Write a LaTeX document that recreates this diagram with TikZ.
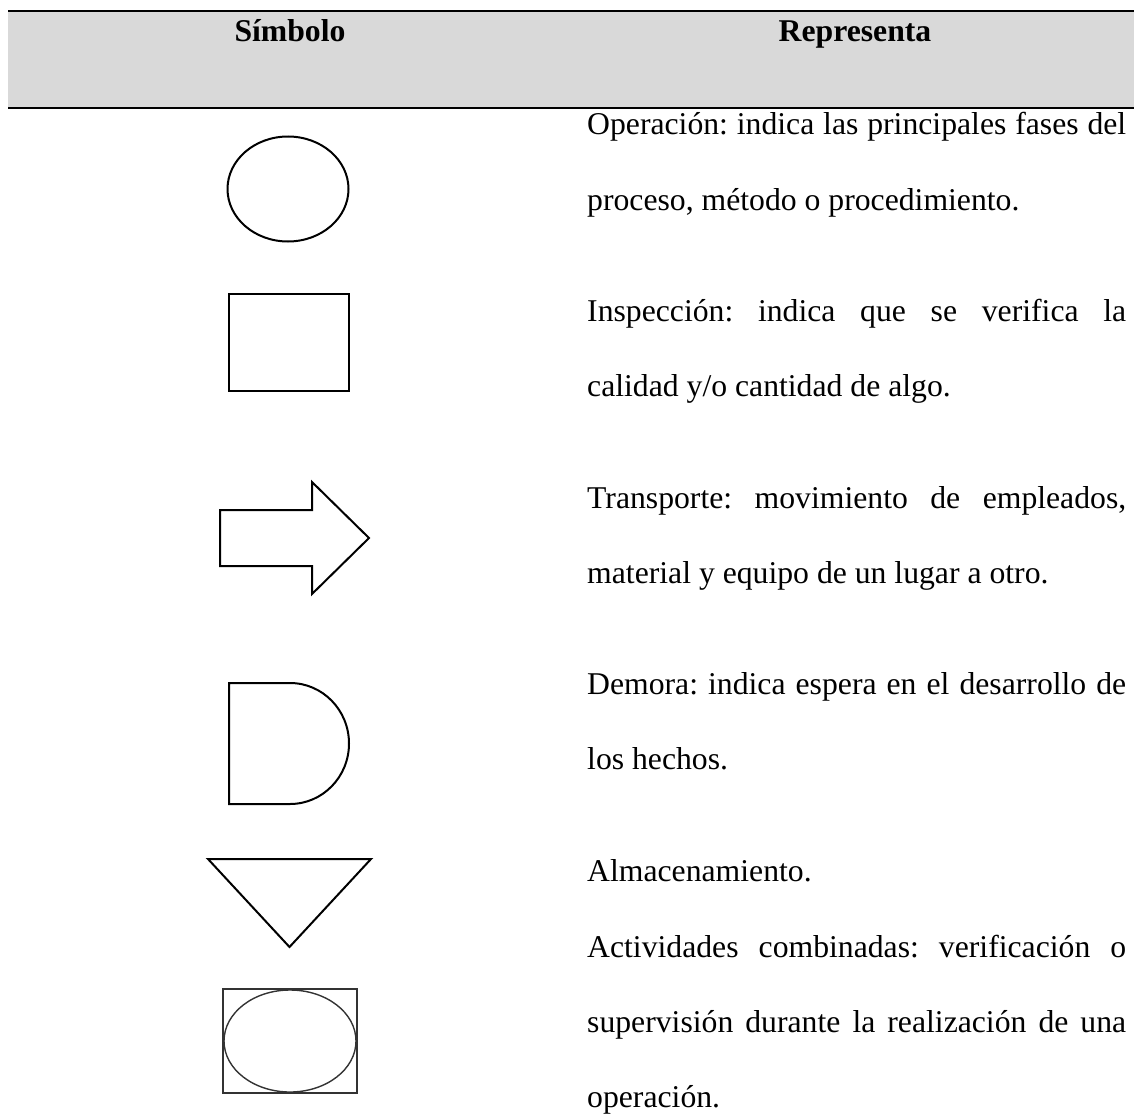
\documentclass[tikz,border=0pt]{standalone}
\usepackage{fontspec}
\setmainfont{Liberation Serif}
\usetikzlibrary{shapes.geometric}
\definecolor{headgray}{HTML}{D9D9D9}
\definecolor{thingray}{HTML}{333333}
\tikzset{
  symline/.style={line width=2pt, draw=black, line join=miter},
  thinline/.style={line width=1.4pt, draw=thingray},
  rule/.style={line width=2.2pt, draw=black},
  headtxt/.style={font=\fontsize{31.7}{38}\selectfont\bfseries, inner sep=0pt, anchor=base},
  desc/.style={font=\fontsize{31.7}{38}\selectfont, inner sep=0pt, anchor=base west},
}
\frenchspacing
\newcommand{\jline}[1]{\makebox[539pt][s]{#1}}
\begin{document}
\begin{tikzpicture}[x=1pt, y=-1pt]
  \useasboundingbox (0,0) rectangle (1134,1113);

  % header band
  \fill[headgray] (8,11) rectangle (1134,108);
  \coordinate (hl1) at (8,11);  \coordinate (hr1) at (1134,11);
  \coordinate (hl2) at (8,108); \coordinate (hr2) at (1134,108);
  \draw[rule] (hl1) -- (hr1);
  \draw[rule] (hl2) -- (hr2);
  \node[headtxt] (hsym) at (290,42) {Símbolo};
  \node[headtxt] (hrep) at (855,42) {Representa};

  % symbols
  \node[symline, ellipse, minimum width=121pt, minimum height=105pt, inner sep=0pt] (oper) at (288,189) {};
  \node[symline, rectangle, minimum width=120pt, minimum height=97pt, inner sep=0pt] (insp) at (289,342.5) {};
  \draw[symline] (220,510) -- (312,510) -- (312,482) -- (369,538) -- (312,594) -- (312,566) -- (220,566) -- cycle;
  \draw[symline] (229,683) -- (290,683) arc[start angle=-90, end angle=90, x radius=59, y radius=60.5] -- (229,804) -- cycle;
  \draw[symline] (208,859) -- (371,859) -- (289.5,947) -- cycle;
  \node[thinline, rectangle, minimum width=134pt, minimum height=104pt, inner sep=0pt] (combr) at (290,1041) {};
  \node[thinline, ellipse, minimum width=132pt, minimum height=102pt, inner sep=0pt] (combe) at (290,1041) {};

  % descriptions
  \node[desc] (d1a) at (587,135)   {\jline{Operación: indica las principales fases del}};
  \node[desc] (d1b) at (587,210)   {proceso, método o procedimiento.};
  \node[desc] (d2a) at (587,321.5) {\jline{Inspección: indica que se verifica la}};
  \node[desc] (d2b) at (587,396.5) {calidad y/o cantidad de algo.};
  \node[desc] (d3a) at (587,508)   {\jline{Transporte: movimiento de empleados,}};
  \node[desc] (d3b) at (587,583)   {material y equipo de un lugar a otro.};
  \node[desc] (d4a) at (587,694.5) {\jline{Demora: indica espera en el desarrollo de}};
  \node[desc] (d4b) at (587,769.5) {los hechos.};
  \node[desc] (d5)  at (587,881)   {Almacenamiento.};
  \node[desc] (d6a) at (587,957)   {\jline{Actividades combinadas: verificación o}};
  \node[desc] (d6b) at (587,1032)  {\jline{supervisión durante la realización de una}};
  \node[desc] (d6c) at (587,1107)  {operación.};
\end{tikzpicture}
\end{document}
